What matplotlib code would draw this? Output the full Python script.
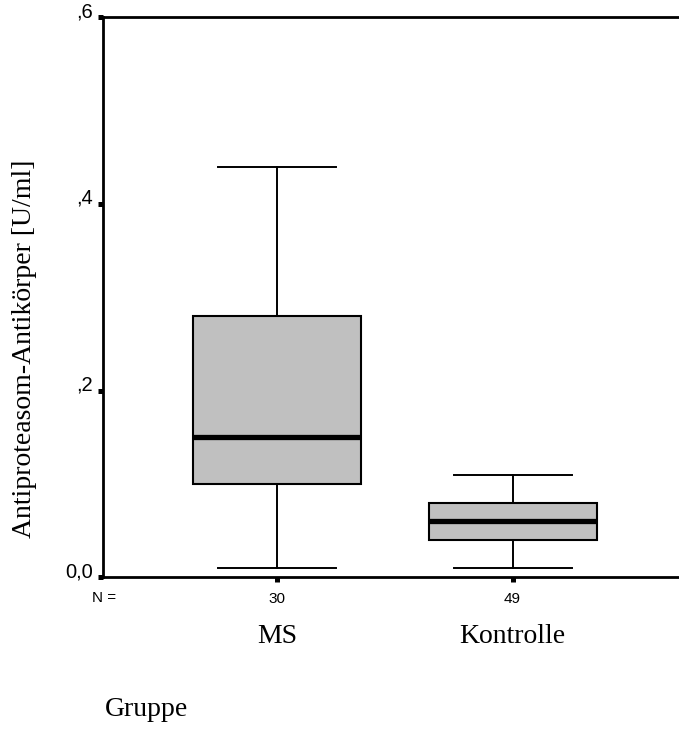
import matplotlib
matplotlib.use("Agg")
import matplotlib.pyplot as plt
from matplotlib.ticker import FixedLocator, FixedFormatter


# ==========================================
# Data
# ==========================================

groups = ["MS", "Kontrolle"]
n_counts = ["30", "49"]

medians = [0.15, 0.06]
q1 = [0.10, 0.04]
q3 = [0.28, 0.08]
whisker_low = [0.01, 0.01]
whisker_high = [0.44, 0.11]

y_ticks = [0.0, 0.2, 0.4, 0.6]
y_tick_labels = ["0,0", ",2", ",4", ",6"]


# ==========================================
# Settings
# ==========================================

SERIF = "Liberation Serif"
SANS = "Liberation Sans"
BOX_GREY = "#c0c0c0"


# ==========================================
# Plot
# ==========================================

def main():
    fig = plt.figure(figsize=(6.79, 7.30), dpi=100)
    ax = fig.add_axes([103 / 679, 152.7 / 730, 576 / 679, 560 / 730])

    stats = []
    for i in range(len(groups)):
        stats.append({
            "med": medians[i],
            "q1": q1[i],
            "q3": q3[i],
            "whislo": whisker_low[i],
            "whishi": whisker_high[i],
            "fliers": [],
            "label": groups[i],
        })

    ax.bxp(
        stats,
        positions=[1, 2],
        widths=0.713,
        capwidths=0.50,
        patch_artist=True,
        showfliers=False,
        boxprops=dict(facecolor=BOX_GREY, edgecolor="black", linewidth=1.5),
        medianprops=dict(color="black", linewidth=3.8, solid_capstyle="butt"),
        whiskerprops=dict(color="black", linewidth=1.4),
        capprops=dict(color="black", linewidth=1.4),
    )

    ax.set_xlim(0.262, 2.706)
    ax.set_ylim(0.0, 0.6)

    for side in ["left", "top", "bottom"]:
        ax.spines[side].set_linewidth(2.0)
        ax.spines[side].set_color("black")
    ax.spines["right"].set_visible(False)

    ax.yaxis.set_major_locator(FixedLocator(y_ticks))
    ax.yaxis.set_major_formatter(FixedFormatter(y_tick_labels))
    ax.set_xticks([1, 2])
    ax.set_xticklabels(n_counts)

    ax.tick_params(axis="y", direction="out", length=3.5, width=3.6, pad=4,
                   labelsize=14.5, colors="black")
    ax.tick_params(axis="x", direction="out", length=3.5, width=3.6, pad=7,
                   labelsize=11, colors="black")
    for lbl in ax.get_yticklabels():
        lbl.set_fontfamily(SANS)
        lbl.set_verticalalignment("baseline")
    for lbl in ax.get_xticklabels():
        lbl.set_fontfamily(SANS)

    # "N =" row label
    fig.text(104 / 679, 1 - 598 / 730, "N =", family=SANS, fontsize=11,
             ha="center", va="center")

    # group names under the counts
    trans = ax.get_xaxis_transform()
    name_y = -(643 - 577.3) / 560
    for pos, name in zip([1, 2], groups):
        ax.text(pos, name_y, name, transform=trans, family=SERIF, fontsize=20,
                ha="center", va="baseline")

    fig.text(25 / 679, 1 - 349 / 730, "Antiproteasom-Antikörper [U/ml]",
             family=SERIF, fontsize=20, rotation=90, ha="center", va="center")

    fig.text(105 / 679, 1 - 716 / 730, "Gruppe", family=SERIF, fontsize=20,
             ha="left", va="baseline")

    fig.savefig("out.png", dpi=100)


if __name__ == "__main__":
    main()
